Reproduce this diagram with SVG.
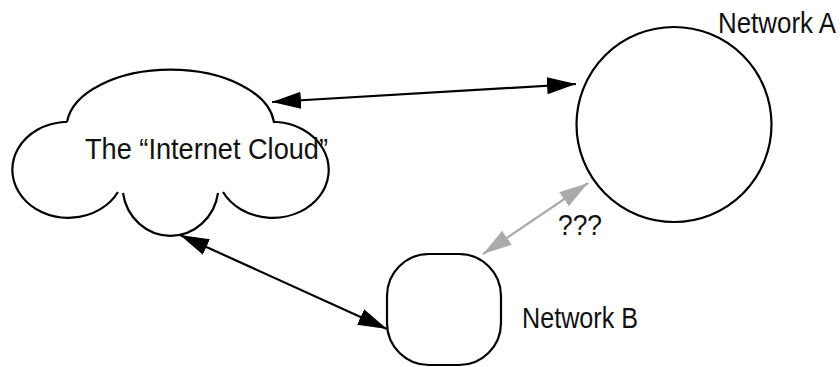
<svg xmlns="http://www.w3.org/2000/svg" width="840" height="367" viewBox="0 0 840 367">
<style>
.shape{fill:#fff;stroke:#000;stroke-width:2.2}
.lbl{font-family:"Liberation Sans Narrow","Liberation Sans",Arial,sans-serif;font-size:26px;fill:#111}
.conn{fill:none;stroke-width:2.2}
.blk{stroke:#000}
.gry{stroke:#aaaaaa}
</style>
<defs>
<marker id="hb" markerUnits="userSpaceOnUse" markerWidth="30" markerHeight="18" viewBox="0 0 30 18" refX="29" refY="9" orient="auto-start-reverse">
<path d="M0,0.5 L29,9 L0,17.5 z" fill="#000"/>
</marker>
<marker id="hg" markerUnits="userSpaceOnUse" markerWidth="30" markerHeight="18" viewBox="0 0 30 18" refX="29" refY="9" orient="auto-start-reverse">
<path d="M0,0.5 L29,9 L0,17.5 z" fill="#aaaaaa"/>
</marker>
</defs>
<rect width="840" height="367" fill="#fff"/>
<g id="cloud">
<path class="shape" d="M 67 122 A 104 58 0 0 1 274 122 L 277 122 A 56 48 0 1 1 223 192 M 218 193 A 48 50 0 0 1 123 193 M 118 192 A 56 48 0 1 1 63 122 L 67 122"/>
<text class="lbl" transform="translate(85,159) scale(1,1.15)" x="0" y="0" textLength="243" lengthAdjust="spacingAndGlyphs">The “Internet Cloud”</text>
</g>
<g id="networkA">
<circle class="shape" cx="674" cy="124.5" r="97.5"/>
<text class="lbl" transform="translate(718,33) scale(1,1.15)" x="0" y="0" textLength="118" lengthAdjust="spacingAndGlyphs">Network A</text>
</g>
<g id="networkB">
<rect class="shape" x="387" y="254" width="114" height="111" rx="42" ry="42"/>
<text class="lbl" transform="translate(522,328) scale(1,1.15)" x="0" y="0" textLength="116" lengthAdjust="spacingAndGlyphs">Network B</text>
</g>
<g id="connectors">
<line class="conn blk" x1="272" y1="102" x2="576" y2="84" marker-start="url(#hb)" marker-end="url(#hb)"/>
<line class="conn blk" x1="180" y1="235" x2="387" y2="329" marker-start="url(#hb)" marker-end="url(#hb)"/>
<line class="conn gry" x1="483" y1="254" x2="588" y2="183" marker-start="url(#hg)" marker-end="url(#hg)"/>
<text class="lbl" transform="translate(558,235) scale(1,1.15)" x="0" y="0" textLength="44" lengthAdjust="spacingAndGlyphs">???</text>
</g>
</svg>
